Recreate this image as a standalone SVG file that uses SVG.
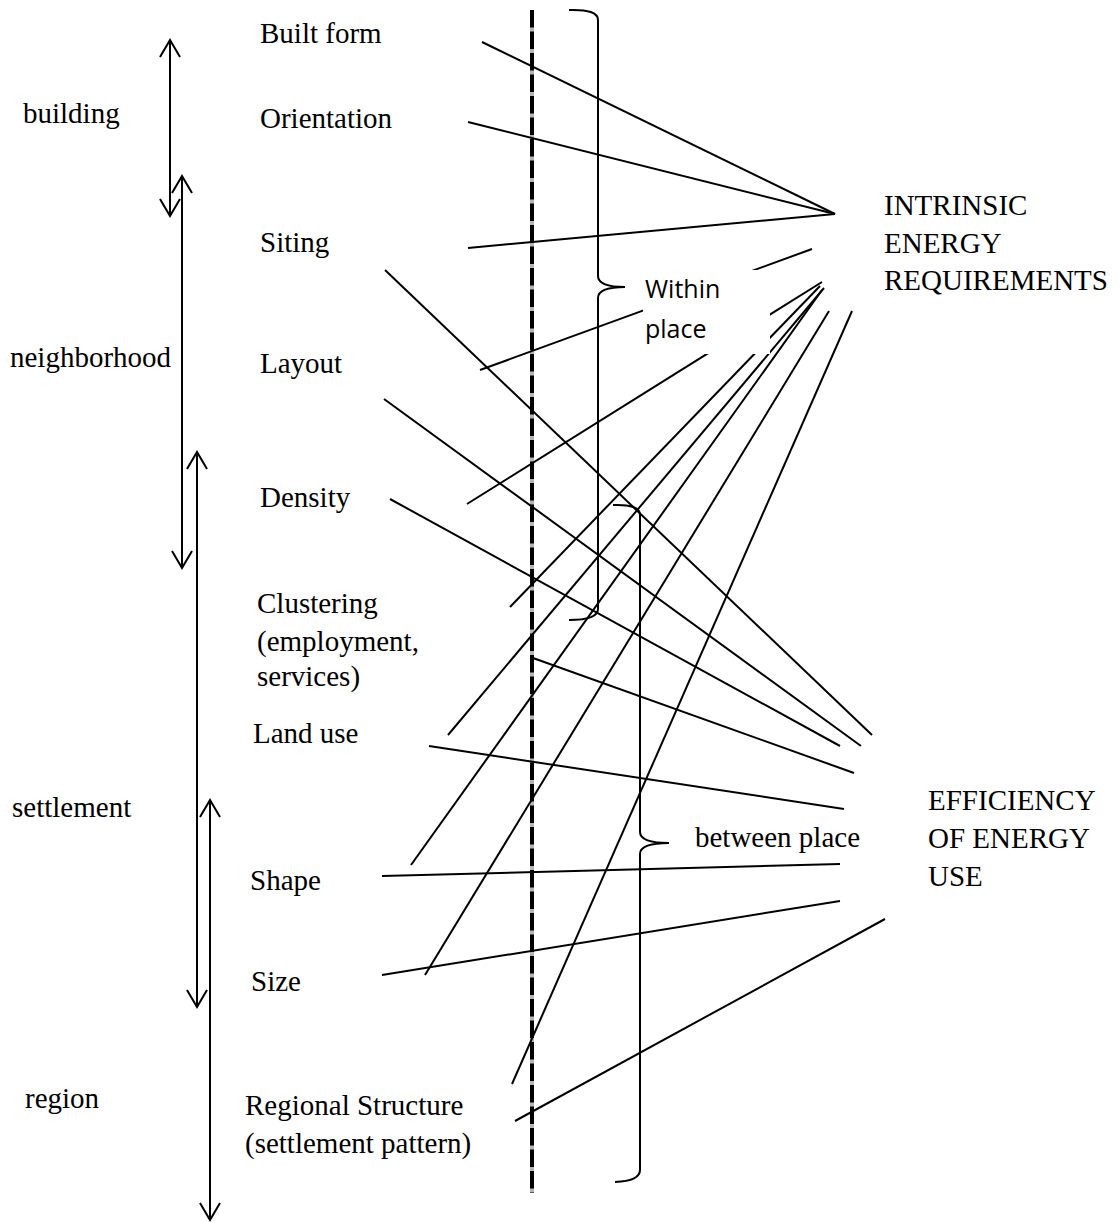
<svg xmlns="http://www.w3.org/2000/svg" width="1120" height="1222" viewBox="0 0 1120 1222">
<defs>
<marker id="ah" markerUnits="userSpaceOnUse" markerWidth="22" markerHeight="24" viewBox="0 0 22 24" refX="19" refY="12" orient="auto-start-reverse">
<path d="M2,2 L19,12 L2,22" fill="none" stroke="#000" stroke-width="2"/>
</marker>
</defs>
<style>
.t{font-family:"Liberation Serif","Times New Roman",serif;font-size:29px;fill:#000}
.s{font-family:"Open Sans","Liberation Sans",sans-serif;font-size:25px;fill:#000}
.ln{stroke:#000;stroke-width:2;fill:none}
.br{stroke:#000;stroke-width:2;fill:none}
.ar{stroke:#000;stroke-width:2;fill:none;marker-start:url(#ah);marker-end:url(#ah)}
</style>
<rect width="1120" height="1222" fill="#fff"/>

<g id="divider">
<line x1="532" y1="10" x2="532" y2="1193" stroke="#b5b5b5" stroke-width="4"/>
<line x1="532" y1="10" x2="532" y2="1193" stroke="#000" stroke-width="4" stroke-dasharray="17.5 4"/>
</g>

<g id="scale-arrows">
<line class="ar" x1="170" y1="40" x2="170" y2="216"/>
<line class="ar" x1="182" y1="176" x2="182" y2="568"/>
<line class="ar" x1="197" y1="452" x2="197" y2="1007"/>
<line class="ar" x1="210" y1="800" x2="210" y2="1220"/>
</g>

<g id="braces">
<path class="br" d="M569,10 Q598,9 598,20 V276 Q598,287 625,287 Q598,287 598,298 V609 Q598,620 569,620"/>
<path class="br" d="M613,505 Q640,504 640,515 V832 Q640,843 669,843 Q640,843 640,854 V1170 Q640,1181 615,1182"/>
</g>

<g id="connectors">
<line class="ln" x1="482" y1="42" x2="835" y2="214"/>
<line class="ln" x1="468" y1="122" x2="835" y2="214"/>
<line class="ln" x1="468" y1="248" x2="835" y2="214"/>
<line class="ln" x1="480" y1="370" x2="812" y2="249"/>
<line class="ln" x1="467" y1="504" x2="822" y2="282"/>
<line class="ln" x1="510" y1="607" x2="820" y2="286"/>
<line class="ln" x1="448" y1="735" x2="824" y2="288"/>
<line class="ln" x1="411" y1="865" x2="822" y2="290"/>
<line class="ln" x1="425" y1="975" x2="829" y2="311"/>
<line class="ln" x1="512" y1="1084" x2="852" y2="311"/>
<line class="ln" x1="385" y1="270" x2="872" y2="735"/>
<line class="ln" x1="384" y1="399" x2="861" y2="746"/>
<line class="ln" x1="390" y1="499" x2="840" y2="746"/>
<line class="ln" x1="533" y1="658" x2="854" y2="773"/>
<line class="ln" x1="429" y1="746" x2="844" y2="809"/>
<line class="ln" x1="382" y1="876" x2="840" y2="864"/>
<line class="ln" x1="382" y1="975" x2="840" y2="901"/>
<line class="ln" x1="515" y1="1121" x2="885" y2="919"/>
</g>

<g id="within-place">
<rect x="643" y="270" width="127" height="84" fill="#fff"/>
<text class="s" x="645" y="298">Within</text>
<text class="s" x="645" y="338">place</text>
</g>

<g id="between-place">
<text class="t" x="695" y="847">between place</text>
</g>

<g id="scales">
<text class="t" x="23" y="123">building</text>
<text class="t" x="10" y="367">neighborhood</text>
<text class="t" x="12" y="817">settlement</text>
<text class="t" x="25" y="1108">region</text>
</g>

<g id="factors">
<text class="t" x="260" y="43">Built form</text>
<text class="t" x="260" y="128">Orientation</text>
<text class="t" x="260" y="252">Siting</text>
<text class="t" x="260" y="373">Layout</text>
<text class="t" x="260" y="507">Density</text>
<text class="t" x="257" y="613">Clustering</text>
<text class="t" x="257" y="651">(employment,</text>
<text class="t" x="257" y="686">services)</text>
<text class="t" x="253" y="743">Land use</text>
<text class="t" x="250" y="890">Shape</text>
<text class="t" x="251" y="991">Size</text>
<text class="t" x="245" y="1115">Regional Structure</text>
<text class="t" x="245" y="1153">(settlement pattern)</text>
</g>

<g id="intrinsic">
<text class="t" x="884" y="215">INTRINSIC</text>
<text class="t" x="884" y="253">ENERGY</text>
<text class="t" x="884" y="290">REQUIREMENTS</text>
</g>

<g id="efficiency">
<text class="t" x="928" y="810">EFFICIENCY</text>
<text class="t" x="928" y="848">OF ENERGY</text>
<text class="t" x="928" y="886">USE</text>
</g>
</svg>
